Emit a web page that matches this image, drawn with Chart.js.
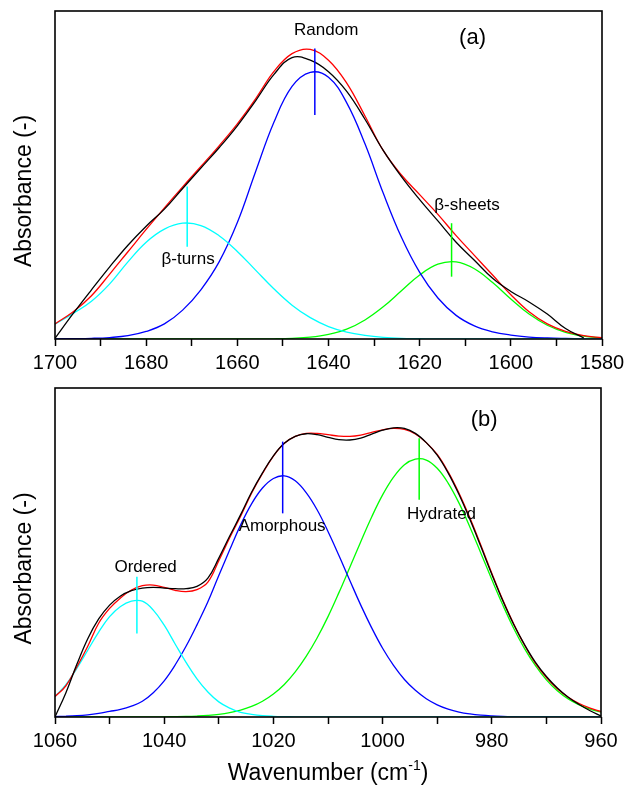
<!DOCTYPE html>
<html>
<head>
<meta charset="utf-8">
<title>FTIR deconvolution</title>
<script src="https://cdn.jsdelivr.net/npm/chart.js@4.4.1/dist/chart.umd.min.js"></script>
<style>
  body { margin: 0; background: #fff; }
  #wrap { position: relative; width: 624px; height: 788px; }
  canvas { position: absolute; left: 0; }
</style>
</head>
<body>
<div id="wrap">
  <canvas id="chartA" width="624" height="380" style="top:0px"></canvas>
  <canvas id="chartB" width="624" height="408" style="top:380px"></canvas>
</div>
<script>
// ---- panel (a): amide I region ----
const wnA = [1700,1696,1692,1688,1684,1680,1676,1672,1668,1664,1660,1656,1652,1648,1644,1640,
             1636,1632,1628,1624,1620,1616,1612,1608,1604,1600,1596,1592,1588,1584,1580];
const measuredA = [0.2,7.8,15.0,22.0,28.6,34.4,39.6,45.9,52.1,58.3,65.0,72.6,80.6,85.8,85,81.5,
                   75.5,67,57.5,49.5,42.5,36,29.5,24,18.5,14.5,11.3,7.6,3.2,0.3,null];
const fitA = [4.6,8.3,13.2,19.8,26.6,33.4,40.0,46.4,52.6,58.9,65.6,73.2,81.5,87.0,88.3,85,
              78,68,57.5,50,44,38,31.5,25.5,19.5,13.5,8.3,4.6,2.3,1.0,0.4];
const turnsA = [4.5,7.8,11.5,16.8,23.5,29.5,33.5,35.3,34.6,31.5,26.7,21.0,15.3,10.3,6.5,3.8,
                2.1,1.1,0.5,0.2,0.1,0,0,0,0,0,0,0,0,0,0];
const randomA = [0.05,0.1,0.2,0.45,1.0,2.3,4.6,8.8,15.0,23.5,35.5,51,66,77,81.3,79.8,
                 72,59.5,44.5,31,20.3,12.5,7.2,4.0,2.2,1.2,0.6,0.3,0.15,0.05,0];
const sheetsA = [0,0,0,0,0,0,0,0,0,0,0,0.02,0.06,0.2,0.55,1.4,
                 3.0,5.8,9.8,14.7,19.5,22.8,23.5,21.4,17.2,12.2,7.6,4.2,2.05,0.88,0.33];
// peak markers: centre, bottom, top
const markWnA = [1671, 1643, 1613];
const markLoA = [28.1, 68.3, 19.0];
const markHiA = [46.5, 88.6, 35.3];
const labelsA = [
  {text: 'Random', wn: 1640.5, val: 92.7, size: 17},
  {text: '(a)', wn: 1608.4, val: 90.0, size: 22},
  {text: 'β-turns', wn: 1670.8, val: 23.0, size: 17},
  {text: 'β-sheets', wn: 1609.6, val: 39.3, size: 17}
];

// ---- panel (b): C-O-C / C-OH region ----
const wnB = [1060,1058,1056,1054,1052,1050,1048,1046,1044,1042,1040,1038,1036,1034,1032,1030,1028,
             1026,1024,1022,1020,1018,1016,1014,1012,1010,1008,1006,1004,1002,1000,998,996,994,
             992,990,988,986,984,982,980,978,976,974,972,970,968,966,964,962,960];
const measuredB = [0,7.4,16.0,23.8,29.8,34.0,36.8,38.4,39.2,39.4,39.2,39.0,39.0,39.7,42.2,48.3,55.0,
                   61.5,68.3,74.2,79.4,83.2,85.3,86.1,85.8,85.0,84.3,84.2,84.8,86.0,87.2,87.9,87.7,86.2,
                   83.4,79.6,74.2,67.6,60.0,51.8,43.4,35.4,28.2,22.0,16.6,12.3,8.8,6.0,3.8,1.9,0.3];
const fitB = [6.2,9.5,15.2,21.5,28.5,33.0,36.2,38.6,39.9,40.1,39.4,38.5,38.1,38.7,41.0,47.5,54.5,
              61.0,68.0,74.0,79.3,83.2,85.3,86.2,86.2,85.8,85.4,85.3,85.7,86.5,87.3,87.7,87.4,86.0,
              83.4,79.8,74.5,68.0,60.5,52.2,43.7,35.6,28.3,21.8,16.3,12.0,8.6,6.0,4.1,2.7,1.7];
const orderedB = [6.2,9.8,14.8,20.3,25.8,30.5,33.6,35.2,35.2,32.5,27.9,22.2,16.6,11.6,7.6,4.6,2.7,
                  1.4,0.8,0.4,0.2,0.1,0.05,0,0,0,0,0,0,0,0,0,0,0,
                  0,0,0,0,0,0,0,0,0,0,0,0,0,0,0,0,0];
const amorphousB = [0.12,0.22,0.39,0.67,1.1,1.7,2.3,3.3,4.8,7.4,11.0,15.8,21.5,28.0,35.0,43.0,50.8,
                    58.4,64.8,69.6,72.5,73.3,71.8,68.2,63.0,56.4,49.1,41.5,34.0,27.1,20.9,15.7,11.4,8.1,
                    5.55,3.7,2.4,1.5,0.92,0.54,0.31,0.17,0.09,0.05,0.02,0,0,0,0,0,0];
const hydratedB = [0,0,0,0,0,0,0,0,0,0,0.05,0.09,0.16,0.29,0.49,0.81,1.33,
                   2.1,3.2,4.8,7.0,9.9,13.7,18.4,24.0,30.5,37.8,45.5,53.3,60.8,67.5,72.9,76.7,78.4,
                   78.1,75.6,71.1,65.0,57.7,49.8,41.8,34.1,27.0,20.8,15.6,11.3,8.0,5.5,3.7,2.4,1.5];
const markWnB = [1045, 1018.3, 993.3];
const markLoB = [25.4, 61.9, 66.0];
const markHiB = [42.6, 83.7, 84.7];
const labelsB = [
  {text: '(b)', wn: 981.4, val: 88.6, size: 22},
  {text: 'Ordered', wn: 1043.4, val: 44.2, size: 17},
  {text: 'Amorphous', wn: 1018.4, val: 56.4, size: 17},
  {text: 'Hydrated', wn: 989.2, val: 60.3, size: 17}
];

const compColors = ['#00ffff', '#0000ff', '#00ff00'];
const FONT = "'Liberation Sans', Arial, Helvetica, sans-serif";

function toPoints(xs, ys) {
  let pts = [];
  xs.forEach((x, i) => {
    if (ys[i] !== null) pts.push({x: x, y: ys[i]});
  });
  return pts;
}

function curve(xs, ys, color) {
  return {
    data: toPoints(xs, ys),
    borderColor: color,
    borderWidth: 1.3,
    pointRadius: 0,
    fill: false,
    tension: 0.4
  };
}

function markers(wn, lo, hi) {
  return wn.map((w, i) => ({
    data: [{x: w, y: lo[i]}, {x: w, y: hi[i]}],
    borderColor: compColors[i],
    borderWidth: 1.5,
    pointRadius: 0,
    fill: false
  }));
}

// frame, peak labels and axis titles
const decor = {
  id: 'decor',
  afterDatasetsDraw(chart, args, opts) {
    const ctx = chart.ctx;
    const a = chart.chartArea;
    const x = chart.scales.x, y = chart.scales.y;
    ctx.save();
    ctx.strokeStyle = '#000';
    ctx.lineWidth = 1.6;
    ctx.strokeRect(a.left, a.top, a.right - a.left, a.bottom - a.top);

    ctx.fillStyle = '#000';
    ctx.textAlign = 'center';
    ctx.textBaseline = 'alphabetic';
    opts.labels.forEach(l => {
      ctx.font = l.size + 'px ' + FONT;
      ctx.fillText(l.text, x.getPixelForValue(l.wn), y.getPixelForValue(l.val));
    });

    // y title
    ctx.save();
    ctx.translate(30.5, (a.top + a.bottom) / 2 + 16);
    ctx.rotate(-Math.PI / 2);
    ctx.font = '23px ' + FONT;
    ctx.fillText('Absorbance (-)', 0, 0);
    ctx.restore();

    // x title with superscript
    if (opts.xTitle) {
      const base = a.bottom + 63;
      const t1 = 'Wavenumber (cm', sup = '-1', t2 = ')';
      ctx.font = '23px ' + FONT;
      const w1 = ctx.measureText(t1).width, w2 = ctx.measureText(t2).width;
      ctx.font = '14px ' + FONT;
      const ws = ctx.measureText(sup).width;
      let sx = (a.left + a.right) / 2 - (w1 + ws + w2) / 2;
      ctx.textAlign = 'left';
      ctx.font = '23px ' + FONT;
      ctx.fillText(t1, sx, base);
      ctx.font = '14px ' + FONT;
      ctx.fillText(sup, sx + w1, base - 10);
      ctx.font = '23px ' + FONT;
      ctx.fillText(t2, sx + w1 + ws, base);
    }
    ctx.restore();
  }
};

function makeChart(id, xs, series, marks, xmin, xmax, labels, xTitle, pad, axisH) {
  let datasets = marks.concat([
    curve(xs, series[0], '#000000'),
    curve(xs, series[1], '#ff0000'),
    curve(xs, series[2], compColors[0]),
    curve(xs, series[3], compColors[1]),
    curve(xs, series[4], compColors[2])
  ]);
  return new Chart(document.getElementById(id), {
    type: 'line',
    data: {datasets: datasets},
    plugins: [decor],
    options: {
      responsive: false,
      animation: false,
      events: [],
      layout: {padding: pad},
      plugins: {
        legend: {display: false},
        tooltip: {enabled: false},
        decor: {labels: labels, xTitle: xTitle}
      },
      scales: {
        x: {
          type: 'linear',
          reverse: true,
          min: xmin,
          max: xmax,
          afterBuildTicks: s => {
            let t = [];
            for (let v = xmin; v <= xmax; v += 10) t.push({value: v});
            s.ticks = t;
          },
          afterFit: s => { s.height = axisH; },
          ticks: {
            autoSkip: false,
            maxRotation: 0,
            padding: 5,
            color: '#000',
            font: {family: FONT, size: 20},
            callback: v => (v % 20 === 0 ? String(v) : '')
          },
          grid: {drawOnChartArea: false, drawTicks: true, tickLength: 7, tickColor: '#000', tickWidth: 1.5},
          border: {display: false}
        },
        y: {
          display: false,
          min: 0,
          max: 100
        }
      }
    }
  });
}

makeChart('chartA', wnA, [measuredA, fitA, turnsA, randomA, sheetsA],
  markers(markWnA, markLoA, markHiA), 1580, 1700, labelsA, false,
  {top: 11, right: 22, left: 55, bottom: 0}, 41);

makeChart('chartB', wnB, [measuredB, fitB, orderedB, amorphousB, hydratedB],
  markers(markWnB, markLoB, markHiB), 960, 1060, labelsB, true,
  {top: 8, right: 23, left: 55, bottom: 0}, 71);
</script>
</body>
</html>
